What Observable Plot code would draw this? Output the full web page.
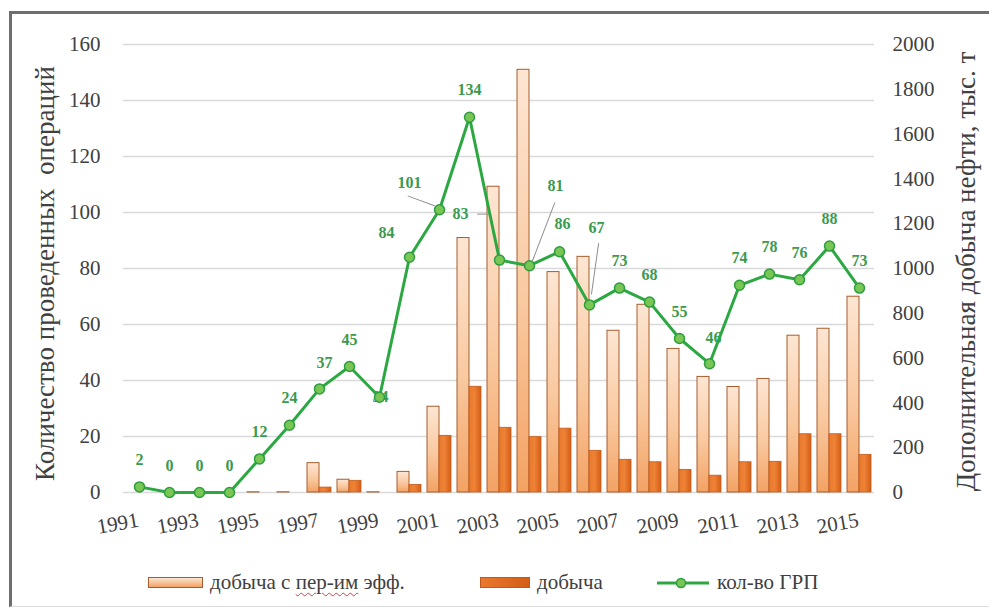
<!DOCTYPE html>
<html>
<head>
<meta charset="utf-8">
<script src="https://cdn.jsdelivr.net/npm/d3@7"></script>
<script src="https://cdn.jsdelivr.net/npm/@observablehq/plot@0.6"></script>
<style>
  body { margin: 0; background: #fff; width: 989px; height: 607px; overflow: hidden; position: relative; font-family: 'Liberation Serif', 'Times New Roman', Times, 'DejaVu Serif', serif; }
  #frame { position: absolute; left: 9px; top: 11px; width: 1000px; height: 592px; border-top: 3px solid #6e6e6e; border-left: 3px solid #6e6e6e; border-bottom: 1px solid #dcdcdc; }
  #chart { position: absolute; left: 0; top: 0; }
  #chart svg, #chart text { font-family: 'Liberation Serif', 'Times New Roman', Times, 'DejaVu Serif', serif; }
  .legtext { position: absolute; top: 569px; font-size: 21px; line-height: 26px; color: #404040; white-space: pre; }
  .sw { position: absolute; top: 577px; height: 11px; box-sizing: border-box; }
  .squiggle { text-decoration: underline wavy #e04040; text-decoration-thickness: 1px; text-underline-offset: 3px; }
</style>
</head>
<body>
<svg width="0" height="0" style="position:absolute">
  <defs>
    <linearGradient id="gLight" x1="0" y1="0" x2="0" y2="1">
      <stop offset="0" stop-color="#fde6d3"/>
      <stop offset="0.55" stop-color="#f9c9a0"/>
      <stop offset="1" stop-color="#f3a263"/>
    </linearGradient>
    <linearGradient id="gDark" x1="0" y1="0" x2="1" y2="0">
      <stop offset="0" stop-color="#e9782c"/>
      <stop offset="0.45" stop-color="#ee8236"/>
      <stop offset="1" stop-color="#d35e16"/>
    </linearGradient>
  </defs>
</svg>
<div id="frame"></div>
<div id="chart"></div>
<div class="sw" style="left:148px;width:55px;background:linear-gradient(#fde6d3,#f3a263);border:1px solid #a85c2c;"></div>
<div class="legtext" style="left:210px;">добыча с <span class="squiggle">пер-им</span> эфф.</div>
<div class="sw" style="left:480px;width:50px;background:linear-gradient(90deg,#e9782c,#d35e16);border:1px solid #c05a1c;"></div>
<div class="legtext" style="left:537px;">добыча</div>
<svg style="position:absolute;left:655px;top:575px" width="56" height="16">
  <line x1="2" y1="8" x2="54" y2="8" stroke="#2ca842" stroke-width="3"/>
  <circle cx="26" cy="8" r="4.5" fill="#78c653" stroke="#2c9e40" stroke-width="1.5"/>
</svg>
<div class="legtext" style="left:717px;">кол-во ГРП</div>
<script>
// ---- data ----
const years = [1991,1992,1993,1994,1995,1996,1997,1998,1999,2000,2001,2002,2003,2004,2005,2006,2007,2008,2009,2010,2011,2012,2013,2014,2015];
const grp = [2,0,0,0,12,24,37,45,34,84,101,134,83,81,86,67,73,68,55,46,74,78,76,88,73];
const prodEff = [0,0,0,0,1,1,131,57,1,92,383,1136,1365,1887,984,1052,722,838,641,516,471,507,700,731,874];
const prod = [0,0,0,0,0,0,22,52,0,34,253,472,289,247,285,186,146,135,101,75,135,137,260,260,168];
const xTickLabels = [1991,1993,1995,1997,1999,2001,2003,2005,2007,2009,2011,2013,2015];
const leftTicks = [0,20,40,60,80,100,120,140,160];
const rightTicks = [0,200,400,600,800,1000,1200,1400,1600,1800,2000];
const leftTitle = "Количество проведенных\u00a0\u00a0операций";
const rightTitle = "Дополнительная добыча нефти, тыс. т";

// ---- config ----
const serif = "'Liberation Serif', 'Times New Roman', Times, 'DejaVu Serif', serif";
const ratio = 2000 / 160;
const rows = years.map((year, i) => ({year, grp: grp[i], eff: prodEff[i], prod: prod[i]}));
const labelNudge = {1997:[5,-26], 1999:[1,0], 2000:[-23,-24], 2001:[-30,-27], 2003:[-39,-46], 2004:[26,-80], 2005:[3,-28], 2006:[7,-77], 2010:[4,-26]};
const leaders = {2001:{dx:-5,dy:-4,len:28,rot:-70}, 2003:{dx:-9,dy:-46,len:13,rot:-90}, 2004:{dx:3,dy:-5,len:62,rot:21}, 2006:{dx:2,dy:-11,len:51,rot:8}};
const green = "#3b9a4e";
const leaderShape = {draw(ctx, l) { ctx.moveTo(0, 0); ctx.lineTo(0, -l); }};
const labelStyle = {x: "year", y: "grp", text: d => String(d.grp), fill: green, fontWeight: "bold", fontSize: 16};

const marks = [
  Plot.gridY(leftTicks, {stroke: "#d9d9d9", strokeOpacity: 1, strokeWidth: 1.5}),
  Plot.barY(rows, {x: "year", y: d => d.eff / ratio, fill: "url(#gLight)", stroke: "#a85c2c", strokeWidth: 1, insetLeft: 3, insetRight: 15}),
  Plot.barY(rows, {x: "year", y: d => d.prod / ratio, fill: "url(#gDark)", stroke: "#c25b1c", strokeWidth: 0.8, insetLeft: 15, insetRight: 3}),
];
for (const [yr, o] of Object.entries(leaders)) {
  marks.push(Plot.vector(rows.filter(d => d.year === +yr), {x: "year", y: "grp", length: o.len, rotate: o.rot, anchor: "start", dx: o.dx, dy: o.dy, stroke: "#8f8f8f", strokeWidth: 1, shape: leaderShape}));
}
marks.push(Plot.text(rows.filter(d => !(d.year in labelNudge)), {...labelStyle, dy: -27}));
for (const [yr, n] of Object.entries(labelNudge)) {
  marks.push(Plot.text(rows.filter(d => d.year === +yr), {...labelStyle, dx: n[0], dy: n[1]}));
}
marks.push(
  Plot.line(rows, {x: "year", y: "grp", stroke: "#2ca842", strokeWidth: 3}),
  Plot.dot(rows, {x: "year", y: "grp", r: 5, fill: "#78c653", stroke: "#2c9e40", strokeWidth: 1.5}),
  Plot.axisY(leftTicks, {anchor: "left", tickSize: 0, tickPadding: 23, fontSize: 21, label: null}),
  Plot.axisY(rightTicks.map(v => v / ratio), {anchor: "right", tickSize: 0, tickPadding: 18, fontSize: 21, label: null, tickFormat: d => String(Math.round(d * ratio))}),
  Plot.text(xTickLabels, {x: d => d, text: d => String(d), frameAnchor: "bottom", dy: 34, rotate: -10, textAnchor: "end", fontSize: 21, fill: "#404040"}),
  Plot.text([leftTitle], {text: d => d, frameAnchor: "left", textAnchor: "middle", dx: -78, dy: 5, rotate: -90, fontSize: 27, fill: "#404040"}),
  Plot.text([rightTitle], {text: d => d, frameAnchor: "right", textAnchor: "middle", dx: 92, dy: 3, rotate: -90, fontSize: 27, fill: "#404040"})
);

const chart = Plot.plot({
  width: 989,
  height: 555,
  marginLeft: 123,
  marginRight: 115,
  marginTop: 44,
  marginBottom: 63,
  style: {fontFamily: serif, fontSize: "19px", color: "#404040", background: "transparent", overflow: "visible"},
  x: {type: "band", domain: years, padding: 0, axis: null},
  y: {domain: [0, 160], axis: null},
  marks
});
document.getElementById("chart").appendChild(chart);
</script>
</body>
</html>
